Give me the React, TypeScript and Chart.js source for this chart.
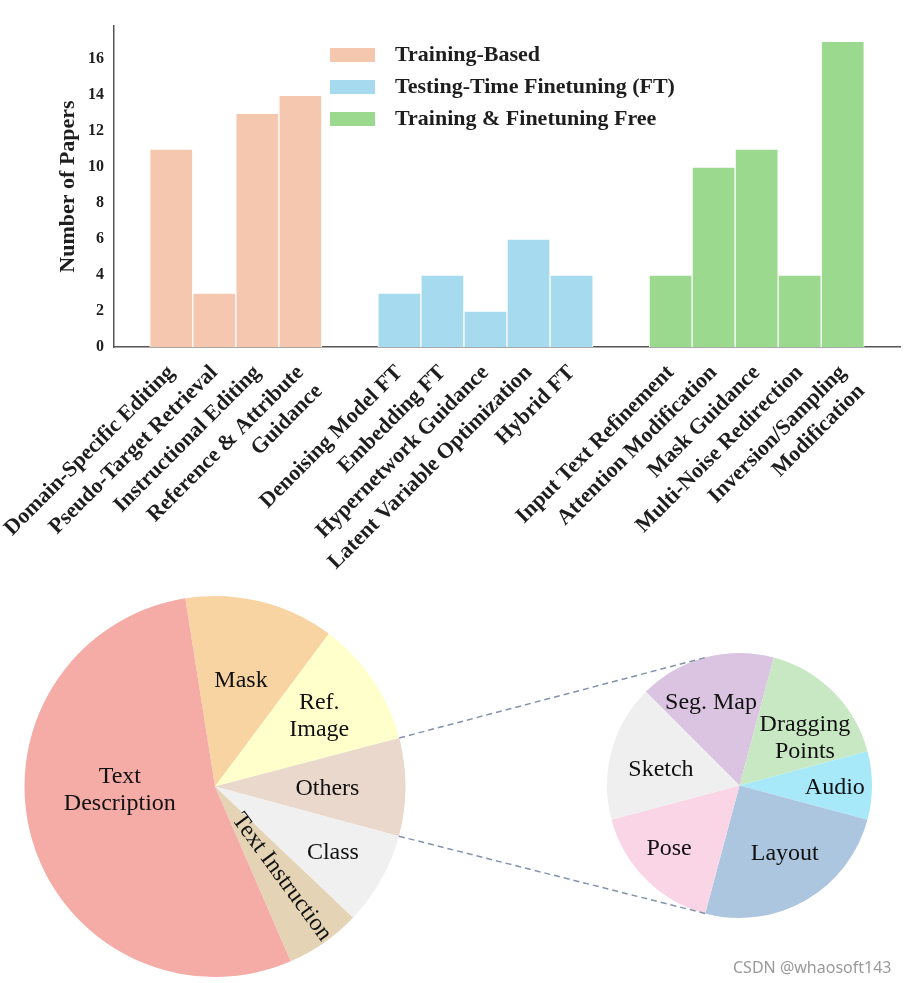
import React, { useEffect, useRef } from 'react';
import { Chart, registerables } from 'chart.js';

Chart.register(...registerables);

// ---------------- DATA ----------------
const groupNames = ['Training-Based', 'Testing-Time Finetuning (FT)', 'Training & Finetuning Free'];

const trainingBasedCats: string[][] = [
  ['Domain-Specific Editing'],
  ['Pseudo-Target Retrieval'],
  ['Instructional Editing'],
  ['Reference & Attribute', 'Guidance'],
];
const trainingBasedVals = [11, 3, 13, 14];

const testingTimeCats: string[][] = [
  ['Denoising Model FT'],
  ['Embedding FT'],
  ['Hypernetwork Guidance'],
  ['Latent Variable Optimization'],
  ['Hybrid FT'],
];
const testingTimeVals = [3, 4, 2, 6, 4];

const freeCats: string[][] = [
  ['Input Text Refinement'],
  ['Attention Modification'],
  ['Mask Guidance'],
  ['Multi-Noise Redirection'],
  ['Inversion/Sampling', 'Modification'],
];
const freeVals = [4, 10, 11, 4, 17];

const yTickValues = [0, 2, 4, 6, 8, 10, 12, 14, 16];
const yTitle = 'Number of Papers';

const conditionLabels: string[][] = [
  ['Mask'],
  ['Ref.', 'Image'],
  ['Others'],
  ['Class'],
  ['Text Instruction'],
  ['Text', 'Description'],
];
const conditionShares = [12.7, 10.7, 8.3, 7.9, 6.4, 54.0];

const otherLabels: string[][] = [
  ['Seg. Map'],
  ['Dragging', 'Points'],
  ['Audio'],
  ['Layout'],
  ['Pose'],
  ['Sketch'],
];
const otherCounts = [2, 2, 1, 3, 2, 2];

const watermark = 'CSDN @whaosoft143';

// ---------------- STYLE ----------------
const SERIF = '"Liberation Serif", "Times New Roman", serif';
const TEXT = '#1e1e1e';
const barColors = ['#F4C7AE', '#A6DAEE', '#9BDA8E'];
const conditionColors = ['#F9D4A3', '#FFFFCB', '#E9D8CB', '#F0F0F0', '#E5D3B5', '#F5ABA6'];
const otherColors = ['#DAC4E1', '#C8E8C4', '#A8E9F9', '#ACC6DF', '#FAD5E5', '#EFEFEF'];

const conditionLabelStyle = [
  { frac: 0.57, dAngle: 0 },
  { frac: 0.66, dAngle: 0 },
  { frac: 0.59, dAngle: 1 },
  { frac: 0.71, dAngle: 0 },
  { frac: 0.59, dAngle: -1.4, rotate: true },
  { frac: 0.5, dAngle: 14 },
];
const otherLabelStyle = [
  { frac: 0.66, dAngle: -4 },
  { frac: 0.61, dAngle: 9 },
  { frac: 0.72, dAngle: 1.6 },
  { frac: 0.62, dAngle: -3.4 },
  { frac: 0.715, dAngle: 3 },
  { frac: 0.605, dAngle: -3.5 },
];

const GROUP_GAP = 1.3;
const LEG = { left: 330, top: 55, row: 32, boxW: 45, boxH: 14, gap: 20 };

type LabelStyle = { frac: number; dAngle: number; rotate?: boolean };

function makePieLabels(labels: string[][], style: LabelStyle[]) {
  return {
    id: 'pieLabels',
    afterDatasetsDraw(chart: any) {
      const ctx = chart.ctx as CanvasRenderingContext2D;
      const arcs = chart.getDatasetMeta(0).data;
      ctx.save();
      ctx.font = `24px ${SERIF}`;
      ctx.fillStyle = '#111';
      ctx.textAlign = 'center';
      ctx.textBaseline = 'middle';
      arcs.forEach((arc: any, i: number) => {
        const p = arc.getProps(['x', 'y', 'startAngle', 'endAngle', 'outerRadius'], true);
        const s = style[i];
        const mid = (p.startAngle + p.endAngle) / 2 + (s.dAngle * Math.PI) / 180;
        const r = p.outerRadius * s.frac;
        ctx.save();
        ctx.translate(p.x + r * Math.cos(mid), p.y + r * Math.sin(mid));
        if (s.rotate) ctx.rotate(mid);
        const lines = labels[i];
        const lh = 27;
        lines.forEach((ln, k) => ctx.fillText(ln, 0, (k - (lines.length - 1) / 2) * lh));
        ctx.restore();
      });
      ctx.restore();
    },
  };
}

export default function App() {
  const barRef = useRef<HTMLCanvasElement>(null);
  const bigRef = useRef<HTMLCanvasElement>(null);
  const smallRef = useRef<HTMLCanvasElement>(null);

  useEffect(() => {
    // ---------- bar chart ----------
    const groups = [
      { cats: trainingBasedCats, vals: trainingBasedVals },
      { cats: testingTimeCats, vals: testingTimeVals },
      { cats: freeCats, vals: freeVals },
    ];
    let pos = 0;
    const tickPos: number[] = [];
    const tickLbl: string[][] = [];
    const datasets = groups.map((g, gi) => {
      const data = g.vals.map((v, i) => {
        const d = { x: pos, y: v };
        tickPos.push(pos);
        tickLbl.push(g.cats[i]);
        pos += 1;
        return d;
      });
      pos += GROUP_GAP;
      return {
        label: groupNames[gi],
        data,
        backgroundColor: barColors[gi],
        borderColor: '#ffffff',
        borderWidth: 1,
        grouped: false,
        barPercentage: 1,
        categoryPercentage: 1,
      };
    });
    const first = tickPos[0] - 0.5;
    const last = tickPos[tickPos.length - 1] + 0.5;
    const xMargin = (last - first) * 0.05;
    const yMax = Math.max(...trainingBasedVals, ...testingTimeVals, ...freeVals) * 1.05;

    const legendPlugin = {
      id: 'innerLegend',
      afterDraw(chart: any) {
        const ctx = chart.ctx as CanvasRenderingContext2D;
        ctx.save();
        chart.data.datasets.forEach((ds: any, i: number) => {
          const cy = LEG.top + i * LEG.row;
          ctx.fillStyle = ds.backgroundColor;
          ctx.fillRect(LEG.left, cy - LEG.boxH / 2, LEG.boxW, LEG.boxH);
          ctx.fillStyle = TEXT;
          ctx.font = `bold 22px ${SERIF}`;
          ctx.textAlign = 'left';
          ctx.textBaseline = 'middle';
          ctx.fillText(ds.label, LEG.left + LEG.boxW + LEG.gap, cy);
        });
        ctx.restore();
      },
    };

    const bar = new Chart(barRef.current!, {
      type: 'bar',
      data: { datasets: datasets as any },
      options: {
        responsive: false,
        animation: false,
        layout: { padding: { left: 0, right: 6, top: 26, bottom: 0 } },
        plugins: { legend: { display: false }, tooltip: { enabled: false } },
        scales: {
          x: {
            type: 'linear',
            offset: false,
            min: first - xMargin,
            max: last + xMargin,
            afterBuildTicks: (s: any) => {
              s.ticks = tickPos.map((v) => ({ value: v }));
            },
            afterFit: (s: any) => {
              s.height = 233;
              s.paddingLeft = 0;
              s.paddingRight = 0;
            },
            ticks: {
              autoSkip: false,
              minRotation: 45,
              maxRotation: 45,
              padding: 13,
              color: TEXT,
              font: { family: SERIF, size: 22, weight: 'bold' },
              callback: (_v: any, i: number) => tickLbl[i],
            },
            grid: { display: false, drawTicks: false },
            border: { display: true, color: '#555', width: 1.5 },
          },
          y: {
            min: 0,
            max: yMax,
            afterBuildTicks: (s: any) => {
              s.ticks = yTickValues.map((v) => ({ value: v }));
            },
            afterFit: (s: any) => {
              s.width = 114;
              s.paddingTop = 0;
              s.paddingBottom = 0;
            },
            ticks: {
              padding: 10,
              color: TEXT,
              font: { family: SERIF, size: 16, weight: 'bold' },
            },
            grid: { display: false, drawTicks: false },
            border: { display: true, color: '#555', width: 1.5 },
            title: {
              display: true,
              text: yTitle,
              color: TEXT,
              font: { family: SERIF, size: 22, weight: 'bold' },
              padding: { top: 55, bottom: 0 },
            },
          },
        },
      } as any,
      plugins: [legendPlugin],
    });

    // ---------- big pie ----------
    const big = new Chart(bigRef.current!, {
      type: 'pie',
      data: {
        labels: conditionLabels.map((l) => l.join(' ')),
        datasets: [{ data: conditionShares, backgroundColor: conditionColors, borderWidth: 0 }],
      },
      options: {
        responsive: false,
        animation: false,
        rotation: -9,
        layout: { padding: { left: 24.5, right: 500.5, top: 16, bottom: 6 } },
        plugins: { legend: { display: false }, tooltip: { enabled: false } },
      } as any,
      plugins: [makePieLabels(conditionLabels, conditionLabelStyle)],
    });

    const othersIdx = conditionLabels.findIndex((l) => l.join(' ') === 'Others');
    const CONNECT = (15 * Math.PI) / 180;

    const connector = {
      id: 'connector',
      afterDatasetsDraw(chart: any) {
        const ctx = chart.ctx as CanvasRenderingContext2D;
        const src = big.getDatasetMeta(0).data[othersIdx] as any;
        const a = src.getProps(['x', 'y', 'startAngle', 'endAngle', 'outerRadius'], true);
        const dst = chart.getDatasetMeta(0).data[0] as any;
        const b = dst.getProps(['x', 'y', 'outerRadius'], true);
        const up = -Math.PI / 2 - CONNECT;
        const down = Math.PI / 2 + CONNECT;
        ctx.save();
        ctx.strokeStyle = '#8393AC';
        ctx.lineWidth = 1.5;
        ctx.setLineDash([6, 4]);
        ctx.beginPath();
        ctx.moveTo(a.x + a.outerRadius * Math.cos(a.startAngle), a.y + a.outerRadius * Math.sin(a.startAngle));
        ctx.lineTo(b.x + b.outerRadius * Math.cos(up), b.y + b.outerRadius * Math.sin(up));
        ctx.moveTo(a.x + a.outerRadius * Math.cos(a.endAngle), a.y + a.outerRadius * Math.sin(a.endAngle));
        ctx.lineTo(b.x + b.outerRadius * Math.cos(down), b.y + b.outerRadius * Math.sin(down));
        ctx.stroke();
        ctx.restore();
      },
    };

    const small = new Chart(smallRef.current!, {
      type: 'pie',
      data: {
        labels: otherLabels.map((l) => l.join(' ')),
        datasets: [{ data: otherCounts, backgroundColor: otherColors, borderWidth: 0 }],
      },
      options: {
        responsive: false,
        animation: false,
        rotation: -45,
        layout: { padding: { left: 607, right: 34, top: 73, bottom: 65 } },
        plugins: { legend: { display: false }, tooltip: { enabled: false } },
      } as any,
      plugins: [connector, makePieLabels(otherLabels, otherLabelStyle)],
    });

    return () => {
      bar.destroy();
      big.destroy();
      small.destroy();
    };
  }, []);

  return (
    <div style={{ position: 'absolute', left: 0, top: 0, width: 906, height: 983, background: '#fff', overflow: 'hidden' }}>
      <canvas ref={barRef} width={906} height={580} style={{ position: 'absolute', left: 0, top: 0, width: 906, height: 580 }} />
      <canvas ref={bigRef} width={906} height={403} style={{ position: 'absolute', left: 0, top: 580, width: 906, height: 403 }} />
      <canvas ref={smallRef} width={906} height={403} style={{ position: 'absolute', left: 0, top: 580, width: 906, height: 403 }} />
      <div
        style={{
          position: 'absolute',
          left: 733,
          top: 957,
          fontFamily: '"Noto Sans", "DejaVu Sans", sans-serif',
          fontSize: 16,
          lineHeight: '20px',
          color: '#9a9a9a',
          whiteSpace: 'nowrap',
        }}
      >
        {watermark}
      </div>
    </div>
  );
}
